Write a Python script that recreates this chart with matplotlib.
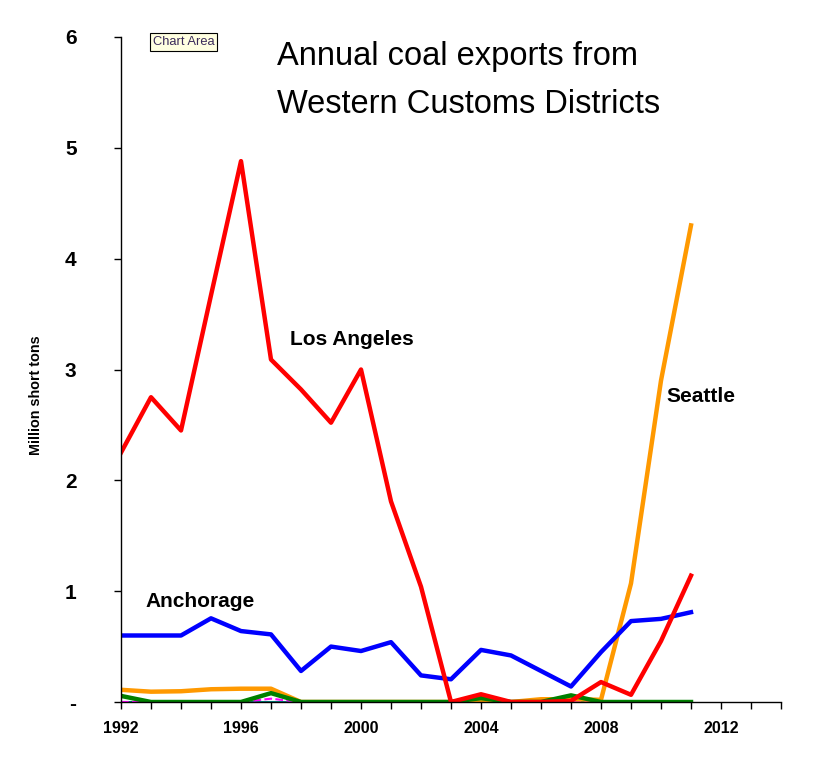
import matplotlib
matplotlib.use('Agg')
import matplotlib.pyplot as plt
import numpy as np

plt.rcParams['font.family'] = ['Liberation Sans', 'DejaVu Sans']

years = list(range(1992, 2012))
los_angeles = [2.25, 2.75, 2.45, 3.67, 4.88, 3.09, 2.82, 2.52, 3.00, 1.81,
               1.04, 0.00, 0.07, 0.00, 0.00, 0.01, 0.18, 0.065, 0.55, 1.14]
anchorage = [0.60, 0.60, 0.60, 0.755, 0.64, 0.61, 0.28, 0.50, 0.46, 0.54,
             0.24, 0.205, 0.47, 0.42, 0.28, 0.14, 0.45, 0.73, 0.75, 0.81]
seattle = [0.11, 0.093, 0.097, 0.115, 0.12, 0.12, 0, 0, 0, 0,
           0, 0, 0, 0, 0.025, 0.025, 0.02, 1.07, 2.90, 4.30]
other_green = [0.055, 0, 0, 0, 0, 0.08, 0, 0, 0, 0,
               0, 0, 0.035, 0, 0, 0.06, 0, 0, 0, 0]
other_magenta = [0, 0, 0, 0, 0, 0.03, 0, 0, 0, 0,
                 0, 0, 0, 0, 0, 0, 0, 0, 0, 0]
other_teal = [0] * 20

yticks = [0, 1, 2, 3, 4, 5, 6]
ytick_labels = ['-', '1', '2', '3', '4', '5', '6']
xtick_major = [1992, 1996, 2000, 2004, 2008, 2012]

fig = plt.figure(figsize=(8.2, 7.6), dpi=100)
ax = fig.add_axes([121/820, 1-702/760, 660/820, 665/760])

ax.plot(years, other_teal, color='#008080', lw=1.5)
ax.plot(years, other_magenta, color='#FF00FF', lw=1.5, ls='--')
ax.plot(years, seattle, color='#FF9900', lw=3.2)
ax.plot(years, other_green, color='#008000', lw=3.2)
ax.plot(years, anchorage, color='#0000FF', lw=3.2)
ax.plot(years, los_angeles, color='#FF0000', lw=3.2)

ax.set_xlim(1992, 2014)
ax.set_ylim(0, 6)
ax.set_yticks(yticks)
ax.set_yticklabels(ytick_labels, fontsize=15, fontweight='bold')
ax.set_xticks(range(1992, 2015))
ax.set_xticklabels([str(y) if y in xtick_major else '' for y in range(1992, 2015)],
                   fontsize=11.5, fontweight='bold')
ax.tick_params(axis='y', direction='out', length=5, width=1, pad=27)
ax.tick_params(axis='x', direction='out', length=5, width=1, pad=9)
for s in ['top', 'right']:
    ax.spines[s].set_visible(False)
ax.spines['left'].set_linewidth(1)
ax.spines['bottom'].set_linewidth(1)

fig.text(36/820, 1-395/760, 'Million short tons', fontsize=10.4, fontweight='bold',
         rotation=90, ha='center', va='center')

ax.text(1997.63, 3.27, 'Los Angeles', fontsize=15, fontweight='bold', va='center')
ax.text(1992.83, 0.91, 'Anchorage', fontsize=15, fontweight='bold', va='center')
ax.text(2010.17, 2.76, 'Seattle', fontsize=15, fontweight='bold', va='center')

fig.text(277/820, 1-65/760, 'Annual coal exports from',
         fontsize=23.5, va='baseline', ha='left')
fig.text(277/820, 1-113/760, 'Western Customs Districts',
         fontsize=23.5, va='baseline', ha='left')

fig.text(153/820, 1-42/760, 'Chart Area', fontsize=9.3, va='center', ha='left',
         color='#3a2a5a',
         bbox=dict(boxstyle='square,pad=0.2', fc='#FFFFE1', ec='black', lw=0.8))

fig.savefig('out.png', dpi=100)
